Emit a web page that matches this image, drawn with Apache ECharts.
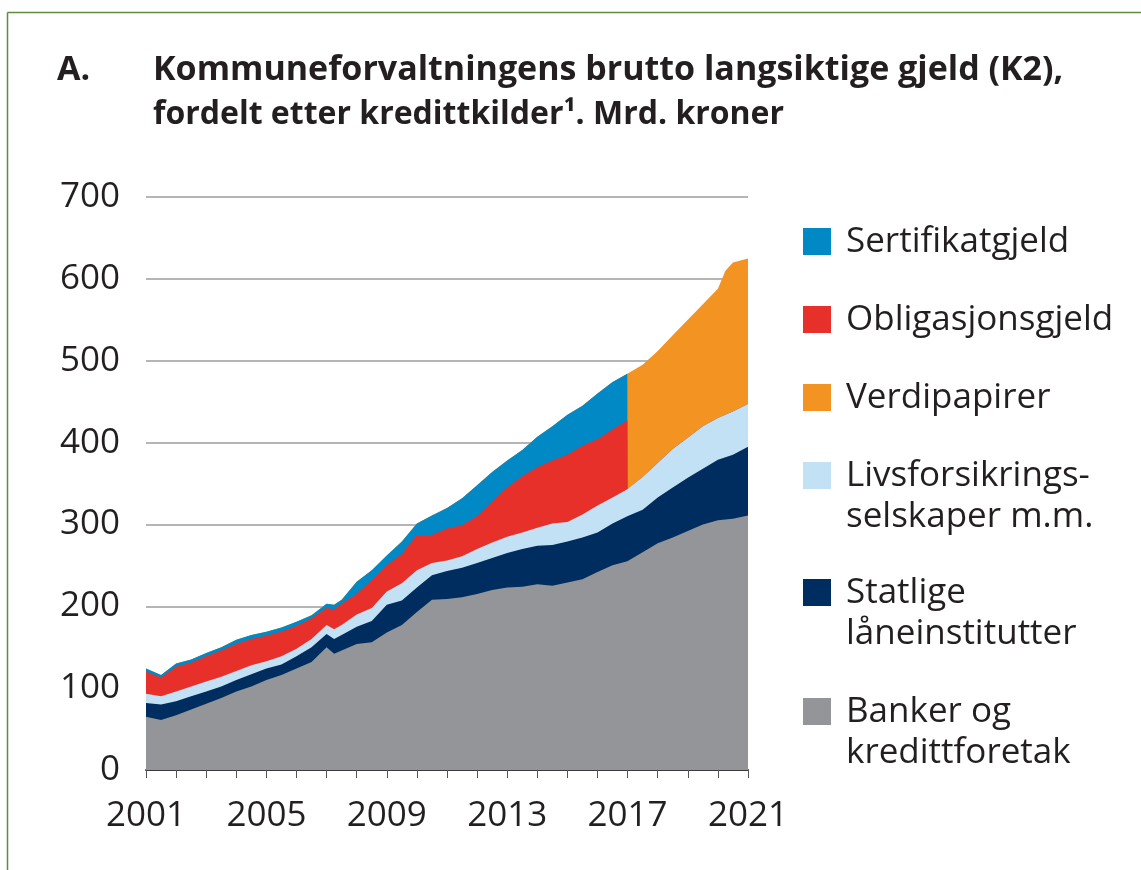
<!DOCTYPE html>
<html>
<head>
<meta charset="utf-8">
<script src="https://cdn.jsdelivr.net/npm/echarts@6/dist/echarts.min.js"></script>
<style>
  html, body { margin: 0; padding: 0; background: #fff; }
  #chart { width: 1141px; height: 870px; }
</style>
</head>
<body>
<div id="chart"></div>
<script>
// Kommuneforvaltningens brutto langsiktige gjeld (K2), mrd. kroner
// values, half-year steps (2017 = change of source split)

const periods = [2001, 2001.5, 2002, 2002.5, 2003, 2003.5, 2004, 2004.5, 2005, 2005.5,
  2006, 2006.5, 2007, 2007.25, 2007.5, 2008, 2008.5, 2009, 2009.5, 2010,
  2010.5, 2011, 2011.5, 2012, 2012.5, 2013, 2013.5, 2014, 2014.5, 2015,
  2015.5, 2016, 2016.5, 2016.99, 2017, 2017.5, 2018, 2018.5, 2019, 2019.5,
  2020, 2020.25, 2020.5, 2021]

const banker = [65, 61, 67, 74, 81, 88, 96, 102, 110, 116,
  124, 132, 150, 142, 146, 154, 156, 168, 177, 193,
  208, 209, 211, 215, 220, 223, 224, 227, 225, 229,
  233, 242, 250, 255, 255, 266, 277, 284, 292, 300,
  305, 306, 307, 311]

const statlige = [17, 19, 17, 16, 15, 14, 14, 15, 14, 13,
  15, 18, 16, 18, 19, 21, 26, 34, 30, 30,
  30, 34, 36, 38, 39, 42, 46, 47, 50, 50,
  51, 48, 51, 55, 55, 52, 56, 61, 65, 68,
  74, 76, 78, 84]

const livsforsikring = [11, 10, 12, 12, 12, 12, 11, 11, 9, 10,
  9, 10, 11, 12, 12, 15, 16, 16, 21, 21,
  15, 13, 14, 17, 19, 20, 20, 22, 26, 24,
  28, 33, 32, 33, 33, 40, 42, 47, 49, 52,
  51, 52, 53, 52]

const obligasjon = [27, 23, 30, 29, 31, 32, 33, 32, 31, 30,
  28, 25, 21, 24, 26, 25, 34, 32, 36, 43,
  34, 39, 38, 40, 50, 60, 69, 74, 77, 82,
  84, 81, 83, 84, 0, 0, 0, 0, 0, 0,
  0, 0, 0, 0]

const sertifikat = [4, 3, 4, 4, 4, 4, 5, 5, 5, 5,
  5, 4, 5, 6, 5, 15, 12, 12, 15, 14,
  24, 25, 33, 38, 36, 33, 32, 37, 42, 49,
  49, 56, 58, 57, 0, 0, 0, 0, 0, 0,
  0, 0, 0, 0]

const verdipapirer = [0, 0, 0, 0, 0, 0, 0, 0, 0, 0,
  0, 0, 0, 0, 0, 0, 0, 0, 0, 0,
  0, 0, 0, 0, 0, 0, 0, 0, 0, 0,
  0, 0, 0, 0, 143, 137, 137, 139, 144, 149,
  158, 176, 182, 178]

const yTicks = [0, 100, 200, 300, 400, 500, 600, 700]

// bottom to top
const layers = [
  { name: 'Banker og\nkredittforetak', values: banker, color: '#939598' },
  { name: 'Statlige\nlåneinstitutter', values: statlige, color: '#002d5f' },
  { name: 'Livsforsikrings-\nselskaper m.m.', values: livsforsikring, color: '#c2e1f4' },
  { name: 'Obligasjonsgjeld', values: obligasjon, color: '#e8302a' },
  { name: 'Sertifikatgjeld', values: sertifikat, color: '#0089c4' },
  { name: 'Verdipapirer', values: verdipapirer, color: '#f39322' },
]

// legend top-to-bottom order as in the figure
const legendOrder = ['Sertifikatgjeld', 'Obligasjonsgjeld', 'Verdipapirer',
  'Livsforsikrings-\nselskaper m.m.', 'Statlige\nlåneinstitutter', 'Banker og\nkredittforetak']
const legendTops = [228, 306, 384, 462, 579, 698]

const FONT = '"Open Sans", "Noto Sans", sans-serif'
const TEXT = '#231f20'

// ECharts stacks along x when both axes are 'value', so the running totals
// are summed here and each layer is filled from zero, lower layers on top.
const running = periods.map(() => 0)
const stacked = layers.map(l => {
  const tops = l.values.map((v, i) => (running[i] += v))
  return { ...l, tops }
})

const chart = echarts.init(document.getElementById('chart'), null, { renderer: 'canvas' })

const legendGraphics = []
legendOrder.forEach((name, i) => {
  const layer = layers.find(l => l.name === name)
  const top = legendTops[i]
  legendGraphics.push({
    type: 'rect',
    shape: { x: 803, y: top, width: 28, height: 27 },
    style: { fill: layer.color },
  })
  name.split('\n').forEach((line, j) => {
    legendGraphics.push({
      type: 'text',
      x: 846,
      y: top + 14 + j * 41,
      style: { text: line, font: '35px ' + FONT, fill: TEXT, verticalAlign: 'middle' },
    })
  })
})

chart.setOption({
  animation: false,
  grid: { left: 146, right: 1141 - 748, top: 197, bottom: 870 - 770, containLabel: false },
  xAxis: {
    type: 'value',
    min: 2001,
    max: 2021,
    interval: 1,
    axisLine: { show: true, onZero: false, lineStyle: { color: '#3a3a3a', width: 2 } },
    axisTick: { show: true, length: 8, lineStyle: { color: '#555', width: 1 } },
    axisLabel: {
      margin: 29,
      fontSize: 35,
      fontFamily: FONT,
      color: TEXT,
      formatter: v => ((v - 2001) % 4 === 0 ? String(v) : ''),
    },
    splitLine: { show: false },
  },
  yAxis: {
    type: 'value',
    min: yTicks[0],
    max: yTicks[yTicks.length - 1],
    interval: 100,
    axisLine: { show: false },
    axisTick: { show: false },
    axisLabel: { margin: 26, fontSize: 35, fontFamily: FONT, color: TEXT },
    splitLine: { lineStyle: { color: '#9d9d9d', width: 1.5 } },
  },
  series: stacked.map((l, k) => ({
    name: l.name,
    type: 'line',
    z: 2 + layers.length - k,
    data: periods.map((t, i) => [t, l.tops[i]]),
    showSymbol: false,
    symbol: 'none',
    lineStyle: { width: 0 },
    areaStyle: { color: l.color, opacity: 1, origin: 'start' },
    itemStyle: { color: l.color },
  })),
  graphic: [
    // frame from the source page
    { type: 'line', shape: { x1: 7.5, y1: 12.5, x2: 1141, y2: 12.5 }, style: { stroke: '#5f8d3d', lineWidth: 1.5 } },
    { type: 'line', shape: { x1: 7.5, y1: 12.5, x2: 7.5, y2: 870 }, style: { stroke: '#5f8d3d', lineWidth: 1.5 } },
    {
      type: 'text', x: 57, y: 70,
      style: { text: 'A.', font: 'bold 34px ' + FONT, fill: TEXT, verticalAlign: 'middle' },
    },
    {
      type: 'text', x: 153, y: 70,
      style: { text: 'Kommuneforvaltningens brutto langsiktige gjeld (K2),', font: 'bold 34px ' + FONT, fill: TEXT, verticalAlign: 'middle' },
    },
    {
      type: 'text', x: 153, y: 115,
      style: { text: 'fordelt etter kredittkilder¹. Mrd. kroner', font: 'bold 32px ' + FONT, fill: TEXT, verticalAlign: 'middle' },
    },
    ...legendGraphics,
  ],
})
</script>
</body>
</html>
